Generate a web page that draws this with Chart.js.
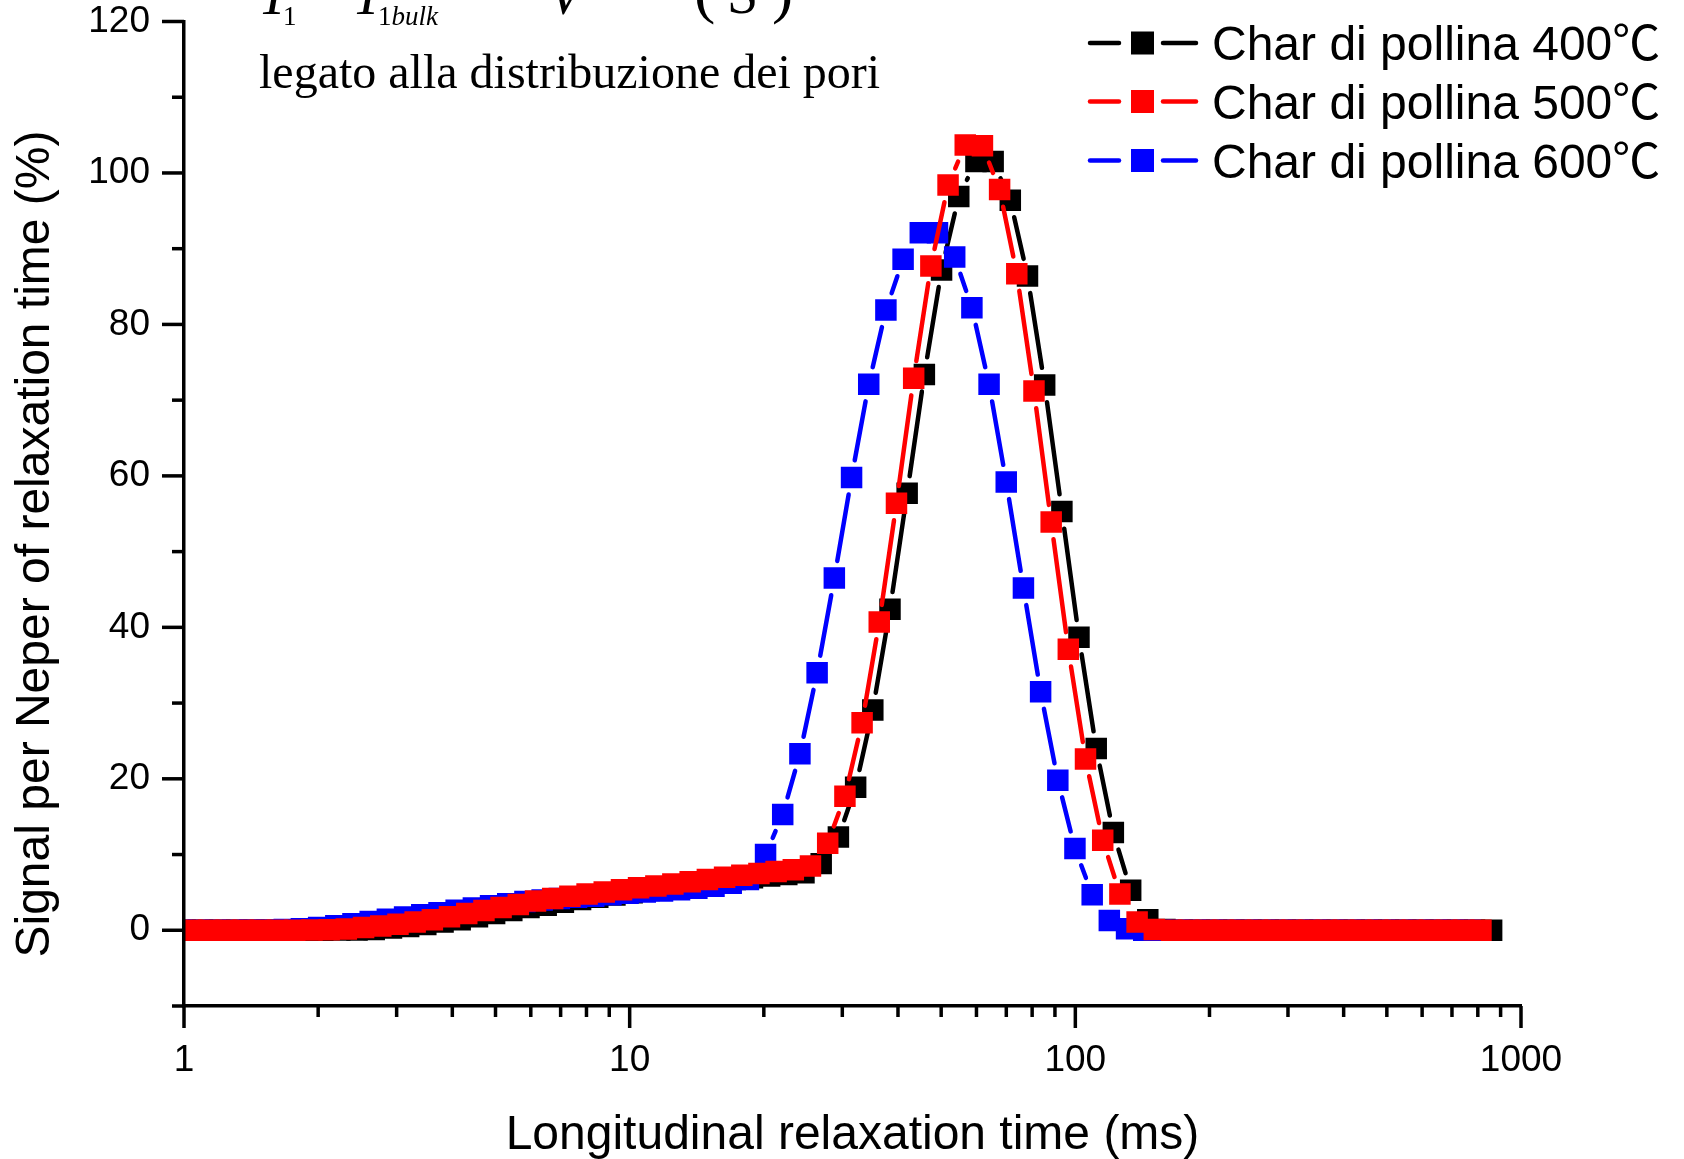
<!DOCTYPE html>
<html>
<head>
<meta charset="utf-8">
<script src="https://cdn.jsdelivr.net/npm/chart.js@4.4.0/dist/chart.umd.min.js"></script>
<style>
html,body{margin:0;padding:0;background:#fff;}
canvas{display:block;}
</style>
</head>
<body>
<canvas id="c" width="1684" height="1159" style="width:1684px;height:1159px"></canvas>
<script>
// ---------- DATA ----------
const seriesLabels = ['Char di pollina 400\u2103', 'Char di pollina 500\u2103', 'Char di pollina 600\u2103'];
const seriesColors = ['#000000', '#FF0000', '#0000FF'];

const t1Char400 = [0.920,1.006,1.100,1.202,1.313,1.435,1.569,1.715,1.873,2.048,
  2.237,2.445,2.672,2.921,3.192,3.488,3.813,4.166,4.555,4.977,
  5.439,5.944,6.497,7.100,7.760,8.481,9.267,10.13,11.07,12.10,
  13.21,14.45,15.79,17.26,18.86,20.61,22.52,24.61,26.90,29.40,
  32.14,35.12,38.38,41.94,45.84,50.10,54.76,59.84,65.40,71.46,
  78.10,85.35,93.29,101.9,111.4,121.7,133.1,145.4,158.9,173.7,
  189.8,207.5,226.8,247.8,270.9,296.0,323.5,353.5,386.5,422.4,
  461.6,504.5,551.3,602.6,658.6,719.6,786.5,859.2];
const sigChar400 = [0,0,0,0,0,0,0,0,0,0,
  0.02,0.05,0.1,0.3,0.5,0.75,1.1,1.4,1.8,2.2,
  2.6,3.0,3.3,3.7,4.05,4.35,4.65,4.95,5.25,5.5,
  5.8,6.1,6.4,6.7,6.95,7.15,7.35,7.6,
  8.8,12.3,18.9,29.1,42.4,57.7,73.4,87.2,96.9,101.5,101.5,96.4,86.4,72.0,55.3,38.7,24.0,12.9,5.3,1.4,0.1,
  0,0,0,0,0,0,0,0,0,0,0,0,0,0,0,0,0,0,0];

const t1Char500 = [0.871,0.952,1.041,1.137,1.243,1.358,1.484,1.622,1.772,1.937,
  2.117,2.313,2.529,2.764,3.021,3.301,3.608,3.942,4.310,4.710,
  5.146,5.625,6.148,6.719,7.343,8.025,8.769,9.586,10.47,11.45,
  12.50,13.67,14.94,16.33,17.85,19.50,21.31,23.29,25.45,27.82,
  30.41,33.23,36.31,39.69,43.38,47.41,51.81,56.62,61.88,67.62,
  73.90,80.76,88.27,96.44,105.4,115.2,125.9,137.6,150.4,164.4,
  179.6,196.4,214.6,234.5,256.4,280.1,306.1,334.5,365.7,399.7,
  436.8,477.4,521.7,570.2,623.2,681.0,744.2,813.1];
const sigChar500 = [0,0,0,0,0,0,0,0,0,
  0.02,0.08,0.18,0.35,0.55,0.8,1.1,1.4,1.8,2.2,
  2.6,3.0,3.4,3.85,4.2,4.5,4.8,5.05,5.35,5.6,
  5.85,6.1,6.4,6.7,7.0,7.25,7.5,7.75,8.0,
  8.5,11.5,17.7,27.4,40.7,56.4,72.9,87.7,98.4,103.7,103.6,97.8,86.7,71.2,53.9,37.1,22.6,11.9,4.8,1.1,0.1,
  0,0,0,0,0,0,0,0,0,0,0,0,0,0,0,0,0,0,0];

const t1Char600 = [0.901,0.985,1.077,1.177,1.286,1.405,1.536,1.679,1.834,2.005,
  2.191,2.394,2.617,2.860,3.126,3.416,3.734,4.080,4.460,4.874,
  5.326,5.821,6.362,6.953,7.599,8.305,9.075,9.92,10.84,11.85,
  12.94,14.15,15.46,16.90,18.47,20.18,22.05,24.10,26.34,28.79,
  31.47,34.39,37.58,41.07,44.89,49.06,53.62,58.60,64.04,69.98,
  76.48,83.58,91.35,99.8,109.1,119.2,130.3,142.4,155.6,170.1,
  185.9,203.2,222.1,242.7,265.3,289.9,316.8,346.2,378.5,413.6,
  452.0,494.0,539.9,590.1,644.9,704.7,770.2];
const sigChar600 = [0,0,0,0,0,0.02,0.05,0.1,0.2,0.35,
  0.6,0.85,1.15,1.45,1.75,2.05,2.3,2.65,2.95,3.25,
  3.5,3.8,4.0,4.2,4.35,4.5,4.7,4.9,5.05,5.2,
  5.35,5.55,5.8,6.2,6.7,
  10.0,15.3,23.3,34.0,46.5,59.8,72.1,81.9,88.6,92.1,92.1,88.9,82.2,72.1,59.2,45.2,31.5,19.8,10.8,4.7,1.3,0.2,
  0,0,0,0,0,0,0,0,0,0,0,0,0,0,0,0,0,0,0,0];

const xMajorTicks = [1, 10, 100, 1000];
const xTickLabels = ['1', '10', '100', '1000'];
const xMinorTicks = [2,3,4,5,6,7,8,9,20,30,40,50,60,70,80,90,200,300,400,500,600,700,800,900];
const yMajorTicks = [0, 20, 40, 60, 80, 100, 120];
const yTickLabels = ['0', '20', '40', '60', '80', '100', '120'];
const yMinorTicks = [-10, 10, 30, 50, 70, 90, 110];

const xTitle = 'Longitudinal relaxation time (ms)';
const yTitle = 'Signal per Neper of relaxation time (%)';
const noteText = 'legato alla distribuzione dei pori';

// ---------- HELPERS ----------
const SANS = '"Liberation Sans", Arial, Helvetica, sans-serif';
const SERIF = '"Liberation Serif", "Times New Roman", serif';
const HALF = 10.75, GAP = 6.5;

function segGeom(c) {
  const a = c.p0, b = c.p1;
  const dx = b.x - a.x, dy = b.y - a.y;
  const L = Math.hypot(dx, dy);
  if (L < 1e-6) return null;
  const g = HALF / Math.max(Math.abs(dx) / L, Math.abs(dy) / L) + GAP;
  return {L, g, on: L - 2 * g};
}
function makeSegment(color) {
  return {
    borderDash: (c) => {
      const s = segGeom(c);
      if (!s || s.on <= 0.5) return undefined;
      return [0, s.g, s.on, s.g];
    },
    borderColor: (c) => {
      const s = segGeom(c);
      if (!s || s.on <= 0.5) return 'rgba(0,0,0,0)';
      return color;
    }
  };
}
function pts(xs, ys) { return xs.map((x, i) => ({x: x, y: ys[i]})); }

function makeDataset(i, xs, ys, order) {
  return {
    label: seriesLabels[i],
    data: pts(xs, ys),
    borderColor: seriesColors[i],
    backgroundColor: seriesColors[i],
    pointBackgroundColor: seriesColors[i],
    pointBorderWidth: 0,
    pointStyle: 'rect',
    pointRadius: 15.2,
    borderWidth: 4.5,
    borderCapStyle: 'round',
    tension: 0,
    fill: false,
    clip: 0,
    order: order,
    segment: makeSegment(seriesColors[i])
  };
}

// ---------- DECORATION PLUGIN ----------
const decor = {
  id: 'decor',
  beforeDraw(chart) {
    const ctx = chart.ctx;
    ctx.save();
    ctx.fillStyle = '#ffffff';
    ctx.fillRect(0, 0, chart.width, chart.height);
    ctx.restore();
  },
  afterDraw(chart) {
    const ctx = chart.ctx;
    const xs = chart.scales.x, ys = chart.scales.y;
    const area = chart.chartArea;
    ctx.save();
    // tick marks
    ctx.strokeStyle = '#000';
    ctx.lineCap = 'butt';
    ctx.lineWidth = 3.5;
    const seg = (x1, y1, x2, y2) => { ctx.beginPath(); ctx.moveTo(x1, y1); ctx.lineTo(x2, y2); ctx.stroke(); };
    yMajorTicks.forEach(v => { const y = ys.getPixelForValue(v); seg(area.left - 22, y, area.left, y); });
    yMinorTicks.forEach(v => { const y = ys.getPixelForValue(v); seg(area.left - 12, y, area.left, y); });
    xMajorTicks.forEach(v => { const x = xs.getPixelForValue(v); seg(x, area.bottom, x, area.bottom + 22); });
    xMinorTicks.forEach(v => { const x = xs.getPixelForValue(v); seg(x, area.bottom, x, area.bottom + 11); });

    // y axis title
    ctx.fillStyle = '#000';
    ctx.font = '48px ' + SANS;
    ctx.textAlign = 'center';
    ctx.textBaseline = 'alphabetic';
    ctx.save();
    ctx.translate(49, 544);
    ctx.rotate(-Math.PI / 2);
    ctx.fillText(yTitle, 0, 0);
    ctx.restore();

    // legend
    const rows = [43, 101.5, 160.5];
    seriesLabels.forEach((lab, i) => {
      const cy = rows[i];
      ctx.strokeStyle = seriesColors[i];
      ctx.lineWidth = 4.5;
      ctx.lineCap = 'round';
      seg(1090, cy, 1119, cy);
      seg(1163, cy, 1196, cy);
      ctx.fillStyle = seriesColors[i];
      ctx.fillRect(1131, cy - 11.5, 23, 23);
      ctx.fillStyle = '#000';
      ctx.font = '48px "Liberation Sans", "Noto Sans CJK SC", sans-serif';
      ctx.textAlign = 'left';
      ctx.textBaseline = 'alphabetic';
      ctx.fillText(lab, 1212, cy + 17);
    });

    // annotation text (formula row, cut off at top, and note)
    ctx.fillStyle = '#000';
    ctx.textAlign = 'left';
    ctx.textBaseline = 'alphabetic';
    ctx.font = 'italic 56px ' + SERIF;
    ctx.fillText('T', 258, 14);
    ctx.fillText('T', 352, 14);
    ctx.fillText('V', 548, 14);
    ctx.font = '27px ' + SERIF;
    ctx.fillText('1', 283, 25);
    ctx.fillText('1', 378, 25);
    const w1 = ctx.measureText('1').width;
    ctx.font = 'italic 27px ' + SERIF;
    ctx.fillText('bulk', 378 + w1, 25);
    ctx.font = '64px ' + SERIF;
    ctx.fillText('(', 694, 11);
    ctx.fillText(')', 772, 11);
    ctx.font = '56px ' + SERIF;
    ctx.fillText('S', 727, 13);
    ctx.font = '48px ' + SERIF;
    ctx.fillText(noteText, 259, 88);
    ctx.restore();
  }
};

// ---------- CHART ----------
new Chart(document.getElementById('c'), {
  type: 'line',
  data: {
    datasets: [
      makeDataset(0, t1Char400, sigChar400, 2),
      makeDataset(1, t1Char500, sigChar500, 0),
      makeDataset(2, t1Char600, sigChar600, 1)
    ]
  },
  options: {
    responsive: false,
    devicePixelRatio: 1,
    animation: false,
    events: [],
    layout: {padding: {left: 0, right: 163, top: 21.5, bottom: 0}},
    plugins: {legend: {display: false}, tooltip: {enabled: false}},
    scales: {
      x: {
        type: 'logarithmic',
        min: 1,
        max: 1000,
        afterBuildTicks: (s) => { s.ticks = xMajorTicks.map(v => ({value: v, major: true})); },
        afterFit: (s) => { s.height = 153; s.paddingLeft = 0; s.paddingRight = 0; },
        grid: {display: true, drawOnChartArea: false, drawTicks: false},
        border: {display: true, color: '#000', width: 3.5, z: 1},
        ticks: {
          autoSkip: false, maxRotation: 0, minRotation: 0, padding: 33,
          color: '#000', font: {family: SANS, size: 37},
          callback: (v) => { const i = xMajorTicks.indexOf(v); return i >= 0 ? xTickLabels[i] : ''; }
        },
        title: {
          display: true, text: xTitle, color: '#000',
          font: {family: SANS, size: 48, lineHeight: 0.95},
          padding: {top: 0, bottom: 0}
        }
      },
      y: {
        type: 'linear',
        min: -10,
        max: 120,
        afterBuildTicks: (s) => { s.ticks = yMajorTicks.map(v => ({value: v})); },
        afterFit: (s) => { s.width = 184; s.paddingTop = 0; s.paddingBottom = 0; },
        grid: {display: true, drawOnChartArea: false, drawTicks: false},
        border: {display: true, color: '#000', width: 3.5, z: 1},
        ticks: {
          padding: 34, color: '#000', font: {family: SANS, size: 37},
          callback: (v) => { const i = yMajorTicks.indexOf(v); return i >= 0 ? yTickLabels[i] : ''; }
        },
        title: {display: false}
      }
    }
  },
  plugins: [decor]
});
</script>
</body>
</html>
